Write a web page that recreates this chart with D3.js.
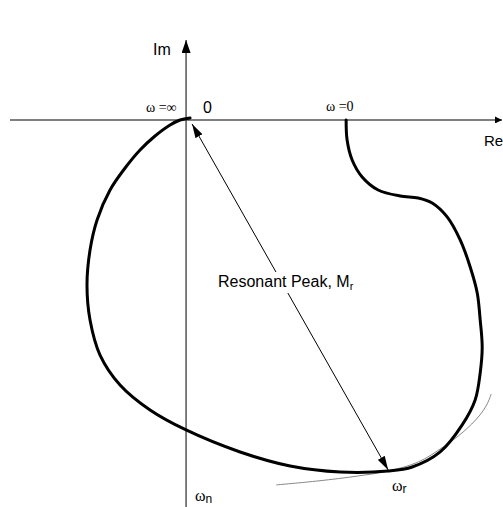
<!DOCTYPE html>
<html>
<head>
<meta charset="utf-8">
<script src="https://cdn.jsdelivr.net/npm/d3@7"></script>
<style>
  html, body { margin: 0; padding: 0; background: #fff; }
  svg { display: block; }
</style>
</head>
<body>
<svg id="chart" width="503" height="507"></svg>
<script>
// Polar (Nyquist) plot of the closed-loop frequency response, in Re/Im units.
const nyquistRe = [1.0, 1.006, 1.0375, 1.1, 1.2, 1.3375, 1.45, 1.5375, 1.631, 1.7125, 1.775, 1.819, 1.8375, 1.85, 1.8375, 1.806,
                   1.725, 1.5875, 1.4125, 1.2625, 0.9625, 0.65, 0.3375, 0.0, -0.225, -0.4125, -0.5375, -0.6, -0.619, -0.6,
                   -0.556, -0.475, -0.381, -0.2875, -0.194, -0.1, -0.0375, 0.025];
const nyquistIm = [0.0, -0.125, -0.25, -0.356, -0.4375, -0.475, -0.4875, -0.519, -0.606, -0.75, -0.919, -1.081, -1.25, -1.419, -1.581, -1.75,
                   -1.906, -2.075, -2.169, -2.194, -2.2, -2.1625, -2.075, -1.9375, -1.8125, -1.656, -1.469, -1.25, -1.031, -0.8125,
                   -0.625, -0.4375, -0.3, -0.1875, -0.1, -0.031, 0.0, 0.0125];

// Constant-M circle arc tangent to the response at the resonant frequency.
const mCircleRe = [0.5625, 0.825, 1.075, 1.2625, 1.45, 1.606, 1.731, 1.831, 1.881, 1.9063];
const mCircleIm = [-2.281, -2.256, -2.225, -2.194, -2.138, -2.044, -1.95, -1.85, -1.775, -1.7125];

// Resonant peak vector: from the origin to the point at omega_r.
const peakRe = [0.0375, 1.2625];
const peakIm = [-0.025, -2.1875];

const axisLabels = ["Re", "Im"];
const pointLabels = ["ω =∞", "0", "ω =0", "ω", "ω"];
const pointSubs = ["", "", "", "r", "n"];
const peakLabel = ["Resonant Peak, M", "r"];

const svg = d3.select("#chart");
const x = d3.scaleLinear().domain([-1.1, 1.98]).range([10, 503]);
const y = d3.scaleLinear().domain([0.5, -2.419]).range([40, 507]);

const defs = svg.append("defs");
function arrowMarker(id, w, h, color) {
  defs.append("marker")
    .attr("id", id)
    .attr("viewBox", `0 0 ${w} ${h}`)
    .attr("refX", w).attr("refY", h / 2)
    .attr("markerWidth", w).attr("markerHeight", h)
    .attr("markerUnits", "userSpaceOnUse")
    .attr("orient", "auto-start-reverse")
    .append("path")
    .attr("d", `M0,0L${w},${h / 2}L0,${h}Z`)
    .attr("fill", color);
}
arrowMarker("axisHead", 13, 9, "#000");
arrowMarker("reHead", 7, 7, "#000");
arrowMarker("peakHead", 14, 8, "#000");

// Axes
svg.append("line")
  .attr("x1", x(-1.1)).attr("y1", y(0))
  .attr("x2", x(1.98) - 1).attr("y2", y(0))
  .attr("stroke", "#000").attr("stroke-width", 1.2)
  .attr("marker-end", "url(#reHead)");
svg.append("line")
  .attr("x1", x(0)).attr("y1", y(-2.419))
  .attr("x2", x(0)).attr("y2", y(0.5))
  .attr("stroke", "#555").attr("stroke-width", 1.5)
  .attr("marker-end", "url(#axisHead)");

// M-circle arc
const mPts = mCircleRe.map((r, i) => [r, mCircleIm[i]]);
svg.append("path")
  .attr("d", d3.line().x(d => x(d[0])).y(d => y(d[1])).curve(d3.curveCatmullRom)(mPts))
  .attr("fill", "none").attr("stroke", "#888").attr("stroke-width", 1);

// Frequency response locus
const nPts = nyquistRe.map((r, i) => [r, nyquistIm[i]]);
svg.append("path")
  .attr("d", d3.line().x(d => x(d[0])).y(d => y(d[1])).curve(d3.curveCatmullRom.alpha(0.5))(nPts))
  .attr("fill", "none").attr("stroke", "#000").attr("stroke-width", 3)
  .attr("stroke-linecap", "round").attr("stroke-linejoin", "round");

// Resonant peak vector
svg.append("line")
  .attr("x1", x(peakRe[0])).attr("y1", y(peakIm[0]))
  .attr("x2", x(peakRe[1])).attr("y2", y(peakIm[1]))
  .attr("stroke", "#000").attr("stroke-width", 1)
  .attr("marker-start", "url(#peakHead)")
  .attr("marker-end", "url(#peakHead)");

// Peak label with a white backing that breaks the vector line
const sans = "'Liberation Sans', Arial, sans-serif";
const serif = "'Liberation Serif', 'Times New Roman', serif";
const peakText = svg.append("text")
  .attr("x", 218).attr("y", 287)
  .attr("font-family", sans).attr("font-size", 16).attr("fill", "#000");
peakText.append("tspan").text(peakLabel[0]);
peakText.append("tspan").attr("font-size", 11).attr("dy", 3).text(peakLabel[1]);
const bb = peakText.node().getBBox();
svg.insert("rect", "text")
  .attr("x", bb.x - 2).attr("y", bb.y - 1)
  .attr("width", bb.width + 4).attr("height", bb.height + 2)
  .attr("fill", "#fff");

// Axis labels
svg.append("text").attr("x", 484).attr("y", 146)
  .attr("font-family", sans).attr("font-size", 15).text(axisLabels[0]);
svg.append("text").attr("x", 153).attr("y", 55)
  .attr("font-family", sans).attr("font-size", 16).text(axisLabels[1]);

// Point annotations
svg.append("text").attr("x", 146).attr("y", 112)
  .attr("font-family", serif).attr("font-size", 14).text(pointLabels[0]);
svg.append("text").attr("x", 203).attr("y", 113)
  .attr("font-family", sans).attr("font-size", 16).text(pointLabels[1]);
svg.append("text").attr("x", 326).attr("y", 111)
  .attr("font-family", serif).attr("font-size", 14).text(pointLabels[2]);

function subLabel(px, py, i) {
  const t = svg.append("text").attr("x", px).attr("y", py)
    .attr("font-family", serif).attr("font-size", 16);
  t.append("tspan").text(pointLabels[i]);
  t.append("tspan").attr("font-family", sans).attr("font-size", 12).attr("dy", 2).text(pointSubs[i]);
}
subLabel(392, 491, 3);
subLabel(195, 501, 4);
</script>
</body>
</html>
